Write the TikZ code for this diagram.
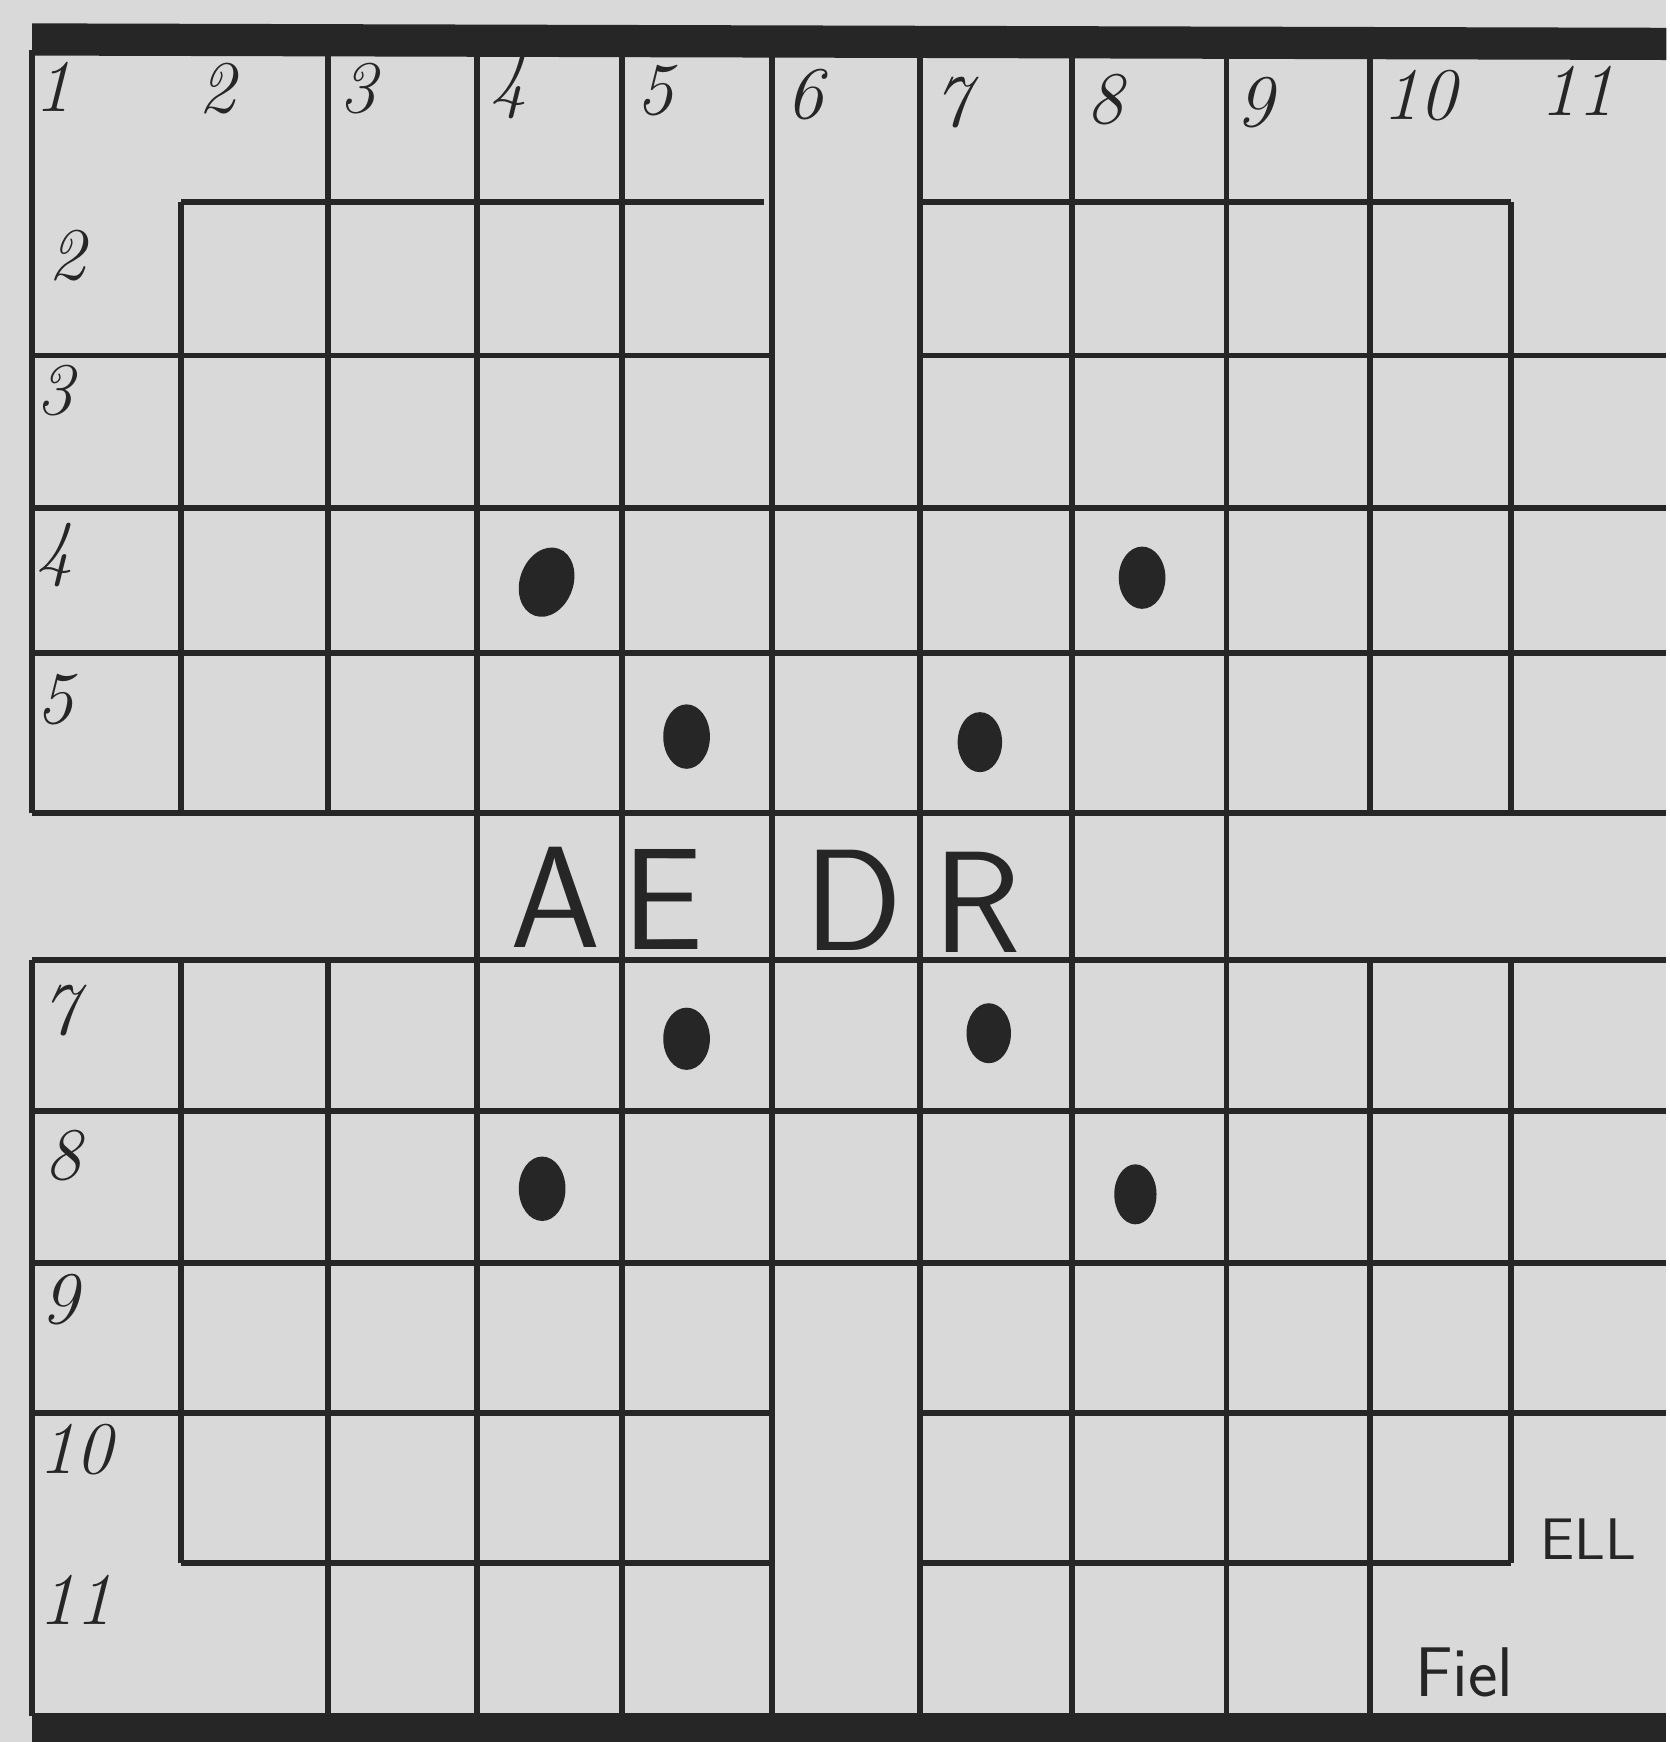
\documentclass[tikz,border=0pt]{standalone}
\usepackage{fontspec}
\definecolor{paper}{gray}{0.85}
\definecolor{ink}{gray}{0.15}

\begin{document}
\begin{tikzpicture}[x=0.01cm,y=-0.01cm,
  gridline/.style={draw=ink,line width=1.5pt},
  num/.style={text=ink,inner sep=0pt,font=\fontsize{19}{19}\selectfont\itshape},
  letter/.style={text=ink,inner sep=0pt,font=\fontsize{37}{37}\selectfont\sffamily},
  note/.style={text=ink,inner sep=0pt,font=\fontsize{15}{15}\selectfont\sffamily},
  dot/.style={fill=ink}]
\fill[paper] (0,0) rectangle (1500,1568);
% thick bars
\fill[ink] (29,21) -- (1500,25) -- (1500,54) -- (29,50) -- cycle;
\fill[ink] (29,1542) rectangle (1500,1568);
% vertical lines
\foreach \x/\ya/\yb in {29/45/732, 29/864/1545, 163/182/732, 163/864/1407,
  295/45/732, 295/864/1545, 429/45/1545, 560/45/1545, 695/45/1545,
  828/45/1545, 965/45/1545, 1104/45/1545, 1233/45/732, 1233/864/1545,
  1360/182/732, 1360/864/1407}
  \draw[gridline] (\x,\ya) -- (\x,\yb);
% horizontal lines
\foreach \y/\xa/\xb in {182/163/688, 182/828/1360, 320/29/695, 320/828/1500,
  457/29/1500, 588/29/1500, 732/29/1500, 864/29/1500, 1000/29/1500,
  1137/29/1500, 1272/29/695, 1272/828/1500, 1407/163/695, 1407/828/1360}
  \draw[gridline] (\xa,\y) -- (\xb,\y);
% column numbers
\foreach \n/\x/\y in {1/48/78, 2/195/80, 3/322/80, 4/458/78, 5/590/82,
  6/725/85, 7/857/92, 8/995/90, 9/1130/92, 10/1278/86, 11/1420/82}
  \node[num] (c\n) at (\x,\y) {\n};
% row numbers
\foreach \n/\x/\y in {2/60/230, 3/50/352, 4/50/500, 5/50/630, 7/54/910,
  8/57/1040, 9/54/1170, 10/68/1305, 11/68/1440}
  \node[num] (r\n) at (\x,\y) {\n};
% dots
\fill[dot,rotate around={-20:(492,524)}] (492,524) ellipse (24 and 32);
\fill[dot] (1028,520) ellipse (21 and 28);
\fill[dot] (618,663) ellipse (21 and 29);
\fill[dot] (882,668) ellipse (20 and 27);
\fill[dot] (618,935) ellipse (21 and 28);
\fill[dot] (890,930) ellipse (20 and 27);
\fill[dot] (488,1070) ellipse (21 and 29);
\fill[dot] (1022,1075) ellipse (19 and 27);
% letters
\node[letter] (la) at (500,808) {A};
\node[letter] (le) at (597,810) {E};
\node[letter] (ld) at (768,810) {D};
\node[letter] (lr) at (880,812) {R};
\node[note] (ell) at (1430,1385) {ELL};
\node[note,font=\fontsize{18}{18}\selectfont\sffamily] (fiel) at (1318,1505) {Fiel};
\end{tikzpicture}
\end{document}
